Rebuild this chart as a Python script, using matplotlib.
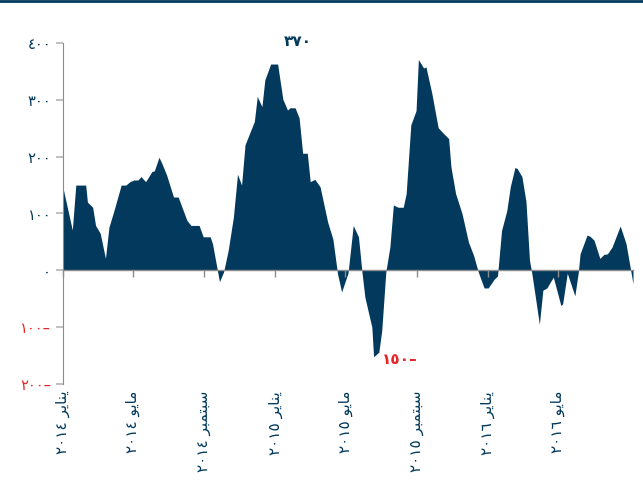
import matplotlib
matplotlib.use('Agg')
import matplotlib.pyplot as plt
import matplotlib.dates as mdates
from matplotlib.lines import Line2D
from matplotlib.transforms import blended_transform_factory
import pandas as pd

plt.rcParams['font.family'] = ['DejaVu Sans']

# days after 2014-01-01 and the weekly-ish values
days = [0, 16, 22, 39, 42, 51, 56, 64, 73, 79, 87, 92, 100, 108, 115, 122, 129, 134, 142,
        153, 157, 165, 170, 178, 190, 198, 213, 220, 234, 241, 253, 257, 269, 276, 284,
        293, 300, 307, 313, 329, 334, 342, 347, 357, 369, 378, 386, 390, 399, 406, 412,
        420, 425, 433, 442, 455, 464, 472, 479, 490, 499, 508, 514, 519, 531, 534, 543,
        548, 555, 562, 568, 576, 585, 590, 598, 607, 611, 620, 624, 634, 645, 654, 663,
        667, 675, 686, 697, 706, 714, 724, 731, 741, 747, 754, 763, 769, 777, 781, 789,
        796, 802, 806, 813, 819, 825, 832, 837, 843, 856, 859, 867, 880, 886, 889, 901,
        906, 913, 923, 930, 936, 944, 958, 968, 976, 980]
values = [145, 71, 150, 150, 120, 111, 79, 65, 21, 76, 103, 121, 150, 150, 156, 159, 159, 165, 156,
          174, 175, 199, 188, 168, 129, 129, 88, 79, 79, 59, 59, 47, -20, -3, 35,
          94, 169, 150, 221, 262, 306, 288, 335, 363, 363, 301, 282, 286, 286, 268, 206,
          206, 156, 160, 147, 85, 55, -6, -38, -5, 79, 59, -3, -47, -100, -152, -144,
          -106, -3, 41, 115, 111, 111, 135, 256, 281, 371, 356, 358, 312, 251, 241, 232,
          182, 135, 100, 50, 26, -3, -31, -31, -16, -10, 70, 105, 147, 181, 179, 165,
          121, 18, -5, -53, -95, -35, -31, -22, -12, -62, -59, -5, -45, -3, 29, 62,
          60, 53, 21, 28, 29, 41, 78, 47, 0, -24]

tick_dates = ['2014-01-01', '2014-05-01', '2014-09-01', '2015-01-01',
              '2015-05-01', '2015-09-01', '2016-01-01', '2016-05-01']
jan = '\uFEAE\uFEF3\uFE8E\uFEE8\uFEF3'
may = '\uFEEE\uFEF3\uFE8E\uFEE3'
sep = '\uFEAE\uFE92\uFEE4\uFE98\uFE92\uFEB3'
tick_labels = ['٢٠١٤ ' + jan, '٢٠١٤ ' + may, '٢٠١٤ ' + sep, '٢٠١٥ ' + jan,
               '٢٠١٥ ' + may, '٢٠١٥ ' + sep, '٢٠١٦ ' + jan, '٢٠١٦ ' + may]

y_ticks = [400, 300, 200, 100, 0, -100, -200]
y_labels = ['٤٠٠', '٣٠٠', '٢٠٠', '١٠٠', '٠', '١٠٠–', '٢٠٠–']

navy = '#02395c'
red = '#e8262a'
grey = '#8c8c8c'

start = pd.Timestamp('2014-01-01')
dates = start + pd.to_timedelta(days, unit='D')

fig = plt.figure(figsize=(6.43, 4.86), dpi=100)
ax = fig.add_axes([63 / 643, 1 - 384 / 486, 570 / 643, 341 / 486])

ax.fill_between(dates, values, 0, color=navy, lw=0, zorder=1)
ax.set_xlim(start, dates[-1])
ax.set_ylim(-200, 400)

for s in ['top', 'right']:
    ax.spines[s].set_visible(False)
ax.spines['left'].set_color(grey)
ax.spines['bottom'].set_color(grey)
ax.spines['bottom'].set_position(('data', 0))
ax.spines['bottom'].set_linewidth(1.0)

ax.set_yticks(y_ticks)
ax.set_yticklabels(y_labels, fontsize=10.5)
for lab, v in zip(ax.get_yticklabels(), y_ticks):
    lab.set_color(red if v < 0 else navy)
ax.tick_params(axis='y', length=5, width=1.2, color='#b5b5b5', pad=3.5)

xt = pd.to_datetime(tick_dates)
ax.set_xticks(xt)
ax.set_xticklabels([''] * len(xt))
ax.tick_params(axis='x', length=5, width=1, color=grey)
trans = blended_transform_factory(ax.transData, ax.transAxes)
for d, lab in zip(xt, tick_labels):
    ax.text(mdates.date2num(d), -0.02, lab, transform=trans, rotation=90,
            ha='center', va='top', fontsize=11, color=navy)

ax.text(pd.Timestamp('2015-02-08'), 402, '٣٧٠', ha='center', va='center',
        fontsize=11, fontweight='bold', color=navy)
ax.text(pd.Timestamp('2015-08-03'), -157, '١٥٠–', ha='center', va='center',
        fontsize=11, fontweight='bold', color=red)

fig.add_artist(Line2D([0, 1], [0.997, 0.997], transform=fig.transFigure,
                      color=navy, lw=2))

fig.savefig('out.png', dpi=100)
